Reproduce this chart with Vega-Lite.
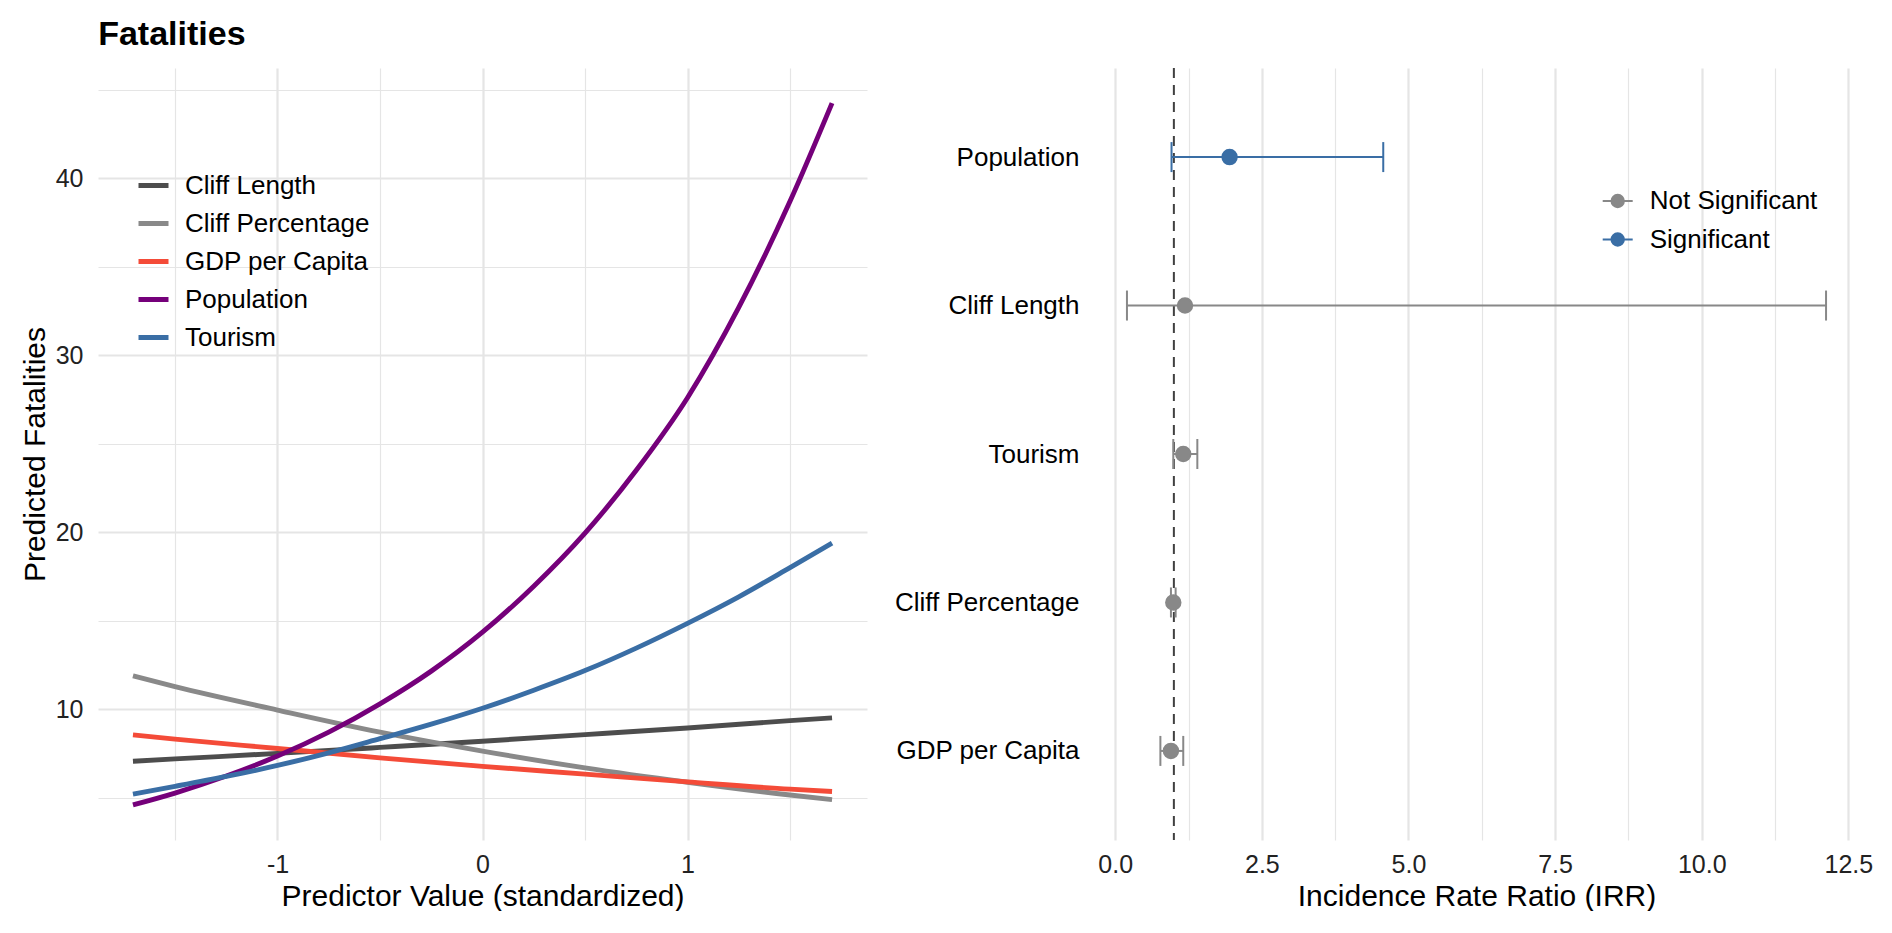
{
  "$schema": "https://vega.github.io/schema/vega-lite/v6.json",
  "padding": {"left": 20, "top": 18, "right": 0, "bottom": 0},
  "background": "white",
  "title": {"text": "Fatalities", "anchor": "start", "frame": "bounds", "dx": 78, "fontSize": 34, "fontWeight": "bold", "font": "Liberation Sans", "color": "#000000", "offset": 15},
  "datasets": {
    "curves": [
      {"variable": "Cliff Length", "x": -1.705, "y": 7.06},
      {"variable": "Cliff Length", "x": -1.5, "y": 7.19},
      {"variable": "Cliff Length", "x": -1, "y": 7.5},
      {"variable": "Cliff Length", "x": -0.5, "y": 7.84},
      {"variable": "Cliff Length", "x": 0, "y": 8.19},
      {"variable": "Cliff Length", "x": 0.5, "y": 8.56},
      {"variable": "Cliff Length", "x": 1, "y": 8.94},
      {"variable": "Cliff Length", "x": 1.5, "y": 9.35},
      {"variable": "Cliff Length", "x": 1.705, "y": 9.51},
      {"variable": "Cliff Percentage", "x": -1.705, "y": 11.88},
      {"variable": "Cliff Percentage", "x": -1.5, "y": 11.27},
      {"variable": "Cliff Percentage", "x": -1, "y": 9.95},
      {"variable": "Cliff Percentage", "x": -0.5, "y": 8.7},
      {"variable": "Cliff Percentage", "x": 0, "y": 7.63},
      {"variable": "Cliff Percentage", "x": 0.5, "y": 6.68},
      {"variable": "Cliff Percentage", "x": 1, "y": 5.87},
      {"variable": "Cliff Percentage", "x": 1.5, "y": 5.15},
      {"variable": "Cliff Percentage", "x": 1.705, "y": 4.89},
      {"variable": "GDP per Capita", "x": -1.705, "y": 8.55},
      {"variable": "GDP per Capita", "x": -1.5, "y": 8.31},
      {"variable": "GDP per Capita", "x": -1, "y": 7.78},
      {"variable": "GDP per Capita", "x": -0.5, "y": 7.25},
      {"variable": "GDP per Capita", "x": 0, "y": 6.77},
      {"variable": "GDP per Capita", "x": 0.5, "y": 6.33},
      {"variable": "GDP per Capita", "x": 1, "y": 5.89},
      {"variable": "GDP per Capita", "x": 1.5, "y": 5.48},
      {"variable": "GDP per Capita", "x": 1.705, "y": 5.35},
      {"variable": "Population", "x": -1.705, "y": 4.59},
      {"variable": "Population", "x": -1.5, "y": 5.26},
      {"variable": "Population", "x": -1.25, "y": 6.22},
      {"variable": "Population", "x": -1, "y": 7.35},
      {"variable": "Population", "x": -0.75, "y": 8.7},
      {"variable": "Population", "x": -0.5, "y": 10.3},
      {"variable": "Population", "x": -0.25, "y": 12.15},
      {"variable": "Population", "x": 0, "y": 14.35},
      {"variable": "Population", "x": 0.25, "y": 16.95},
      {"variable": "Population", "x": 0.5, "y": 19.95},
      {"variable": "Population", "x": 0.75, "y": 23.5},
      {"variable": "Population", "x": 1, "y": 27.6},
      {"variable": "Population", "x": 1.25, "y": 32.7},
      {"variable": "Population", "x": 1.5, "y": 38.7},
      {"variable": "Population", "x": 1.705, "y": 44.25},
      {"variable": "Tourism", "x": -1.705, "y": 5.2},
      {"variable": "Tourism", "x": -1.5, "y": 5.64},
      {"variable": "Tourism", "x": -1.25, "y": 6.2},
      {"variable": "Tourism", "x": -1, "y": 6.82},
      {"variable": "Tourism", "x": -0.75, "y": 7.53},
      {"variable": "Tourism", "x": -0.5, "y": 8.33},
      {"variable": "Tourism", "x": -0.25, "y": 9.15},
      {"variable": "Tourism", "x": 0, "y": 10.05},
      {"variable": "Tourism", "x": 0.25, "y": 11.07},
      {"variable": "Tourism", "x": 0.5, "y": 12.18},
      {"variable": "Tourism", "x": 0.75, "y": 13.45},
      {"variable": "Tourism", "x": 1, "y": 14.85},
      {"variable": "Tourism", "x": 1.25, "y": 16.35},
      {"variable": "Tourism", "x": 1.5, "y": 18.0},
      {"variable": "Tourism", "x": 1.705, "y": 19.38}
    ],
    "irr": [
      {"variable": "Population", "irr": 1.95, "lower": 0.96, "upper": 4.57, "sig": "Significant"},
      {"variable": "Cliff Length", "irr": 1.19, "lower": 0.2, "upper": 12.12, "sig": "Not Significant"},
      {"variable": "Tourism", "irr": 1.16, "lower": 0.99, "upper": 1.4, "sig": "Not Significant"},
      {"variable": "Cliff Percentage", "irr": 0.99, "lower": 0.95, "upper": 1.03, "sig": "Not Significant"},
      {"variable": "GDP per Capita", "irr": 0.95, "lower": 0.77, "upper": 1.16, "sig": "Not Significant"}
    ],
    "ref": [{"ref": 1}]
  },
  "spacing": 27,
  "resolve": {
    "scale": {"color": "independent", "stroke": "independent", "fill": "independent"},
    "legend": {"color": "independent", "stroke": "independent", "fill": "independent"}
  },
  "hconcat": [
    {
      "width": 769,
      "height": 772,
      "data": {"name": "curves"},
      "mark": {"type": "line", "strokeWidth": 4.9, "interpolate": "monotone"},
      "encoding": {
        "x": {
          "field": "x", "type": "quantitative",
          "scale": {"domain": [-1.8755, 1.8755], "nice": false, "zero": false},
          "axis": {
            "title": "Predictor Value (standardized)",
            "values": [-1.5, -1, -0.5, 0, 0.5, 1, 1.5],
            "labelExpr": "datum.value % 1 === 0 ? '' + datum.value : ''",
            "gridWidth": {"condition": {"test": "datum.value % 1 !== 0", "value": 1.2}, "value": 2.2}
          }
        },
        "y": {
          "field": "y", "type": "quantitative",
          "scale": {"domain": [2.607, 46.233], "nice": false, "zero": false},
          "axis": {
            "title": "Predicted Fatalities",
            "values": [5, 10, 15, 20, 25, 30, 35, 40, 45],
            "labelExpr": "datum.value % 10 === 0 ? '' + datum.value : ''",
            "gridWidth": {"condition": {"test": "datum.value % 10 !== 0", "value": 1.2}, "value": 2.2}
          }
        },
        "color": {
          "field": "variable", "type": "nominal",
          "scale": {
            "domain": ["Cliff Length", "Cliff Percentage", "GDP per Capita", "Population", "Tourism"],
            "range": ["#4D4D4D", "#898989", "#F44B38", "#75007A", "#3A6EA5"]
          },
          "legend": {
            "title": null, "orient": "none", "legendX": 38, "legendY": 100,
            "symbolType": "stroke", "symbolSize": 900, "symbolStrokeWidth": 5,
            "labelFontSize": 26, "labelOffset": 14, "rowPadding": 7.0, "labelLimit": 400, "padding": 0
          }
        }
      }
    },
    {
      "width": 769,
      "height": 772,
      "layer": [
        {
          "data": {"name": "ref"},
          "mark": {"type": "rule", "strokeDash": [10, 7], "strokeWidth": 2, "color": "#404040"},
          "encoding": {
            "x": {
              "field": "ref", "type": "quantitative", "title": "Incidence Rate Ratio (IRR)",
              "scale": {"domain": [-0.396, 12.716], "nice": false, "zero": false},
              "axis": {
                "title": "Incidence Rate Ratio (IRR)",
                "values": [0, 1.25, 2.5, 3.75, 5, 6.25, 7.5, 8.75, 10, 11.25, 12.5],
                "labelExpr": "datum.value % 2.5 === 0 ? format(datum.value, '.1f') : ''",
                "gridWidth": {"condition": {"test": "datum.value % 2.5 !== 0", "value": 1.2}, "value": 2.2}
              }
            }
          }
        },
        {
          "data": {"name": "irr"},
          "mark": {"type": "rule", "strokeWidth": 2},
          "encoding": {
            "x": {"field": "lower", "type": "quantitative", "title": "Incidence Rate Ratio (IRR)", "scale": {"domain": [-0.396, 12.716], "nice": false, "zero": false}},
            "x2": {"field": "upper"},
            "y": {
              "field": "variable", "type": "nominal",
              "sort": ["Population", "Cliff Length", "Tourism", "Cliff Percentage", "GDP per Capita"],
              "scale": {"type": "point", "padding": 0.6},
              "axis": {"title": null, "labelFontSize": 26, "labelPadding": 13, "labelLimit": 400, "gridWidth": 2.2, "labelColor": "#000000"}
            },
            "stroke": {
              "field": "sig", "type": "nominal",
              "scale": {"domain": ["Not Significant", "Significant"], "range": ["#888888", "#3A6EA5"]},
              "legend": {
                "title": null, "orient": "none", "legendX": 509.7, "legendY": 117,
                "symbolType": "M-1,0H-0.42M0.42,0H1M-0.42,0A0.42,0.42,0,1,1,0.42,0A0.42,0.42,0,1,1,-0.42,0Z",
                "symbolSize": 900, "symbolStrokeWidth": 1.8,
                "labelFontSize": 26, "labelOffset": 16, "rowPadding": 9.5, "labelLimit": 400, "padding": 0
              }
            }
          }
        },
        {
          "data": {"name": "irr"},
          "mark": {"type": "tick", "thickness": 2, "size": 30, "opacity": 1},
          "encoding": {
            "x": {"field": "lower", "type": "quantitative", "title": "Incidence Rate Ratio (IRR)", "scale": {"domain": [-0.396, 12.716], "nice": false, "zero": false}},
            "y": {"field": "variable", "type": "nominal", "sort": ["Population", "Cliff Length", "Tourism", "Cliff Percentage", "GDP per Capita"], "scale": {"type": "point", "padding": 0.6}},
            "color": {"field": "sig", "type": "nominal", "scale": {"domain": ["Not Significant", "Significant"], "range": ["#888888", "#3A6EA5"]}, "legend": null}
          }
        },
        {
          "data": {"name": "irr"},
          "mark": {"type": "tick", "thickness": 2, "size": 30, "opacity": 1},
          "encoding": {
            "x": {"field": "upper", "type": "quantitative", "title": "Incidence Rate Ratio (IRR)", "scale": {"domain": [-0.396, 12.716], "nice": false, "zero": false}},
            "y": {"field": "variable", "type": "nominal", "sort": ["Population", "Cliff Length", "Tourism", "Cliff Percentage", "GDP per Capita"], "scale": {"type": "point", "padding": 0.6}},
            "color": {"field": "sig", "type": "nominal", "scale": {"domain": ["Not Significant", "Significant"], "range": ["#888888", "#3A6EA5"]}, "legend": null}
          }
        },
        {
          "data": {"name": "irr"},
          "mark": {"type": "circle", "size": 220, "opacity": 1, "strokeWidth": 1.6},
          "encoding": {
            "x": {"field": "irr", "type": "quantitative", "title": "Incidence Rate Ratio (IRR)", "scale": {"domain": [-0.396, 12.716], "nice": false, "zero": false}},
            "y": {"field": "variable", "type": "nominal", "sort": ["Population", "Cliff Length", "Tourism", "Cliff Percentage", "GDP per Capita"], "scale": {"type": "point", "padding": 0.6}},
            "fill": {
              "field": "sig", "type": "nominal",
              "scale": {"domain": ["Not Significant", "Significant"], "range": ["#888888", "#3A6EA5"]},
              "legend": {
                "title": null, "orient": "none", "legendX": 509.7, "legendY": 117,
                "symbolType": "M-1,0H-0.42M0.42,0H1M-0.42,0A0.42,0.42,0,1,1,0.42,0A0.42,0.42,0,1,1,-0.42,0Z",
                "symbolSize": 900, "symbolStrokeWidth": 1.8,
                "labelFontSize": 26, "labelOffset": 16, "rowPadding": 9.5, "labelLimit": 400, "padding": 0
              }
            },
            "stroke": {"field": "sig", "type": "nominal", "scale": {"domain": ["Not Significant", "Significant"], "range": ["#888888", "#3A6EA5"]}}
          }
        }
      ]
    }
  ],
  "config": {
    "font": "Liberation Sans",
    "view": {"stroke": null},
    "axis": {
      "domain": false, "ticks": false, "gridColor": "#E5E5E5",
      "labelFontSize": 25, "labelColor": "#222222", "labelFont": "Liberation Sans",
      "titleFontSize": 30, "titleFontWeight": "normal", "titleColor": "#000000", "titleFont": "Liberation Sans",
      "labelLimit": 400, "labelFlush": false, "labelOverlap": false
    },
    "axisX": {"labelPadding": 12, "titlePadding": 4},
    "axisY": {"labelPadding": 15, "titlePadding": 5},
    "legend": {"labelFontSize": 26, "labelColor": "#000000", "labelFont": "Liberation Sans"}
  }
}
